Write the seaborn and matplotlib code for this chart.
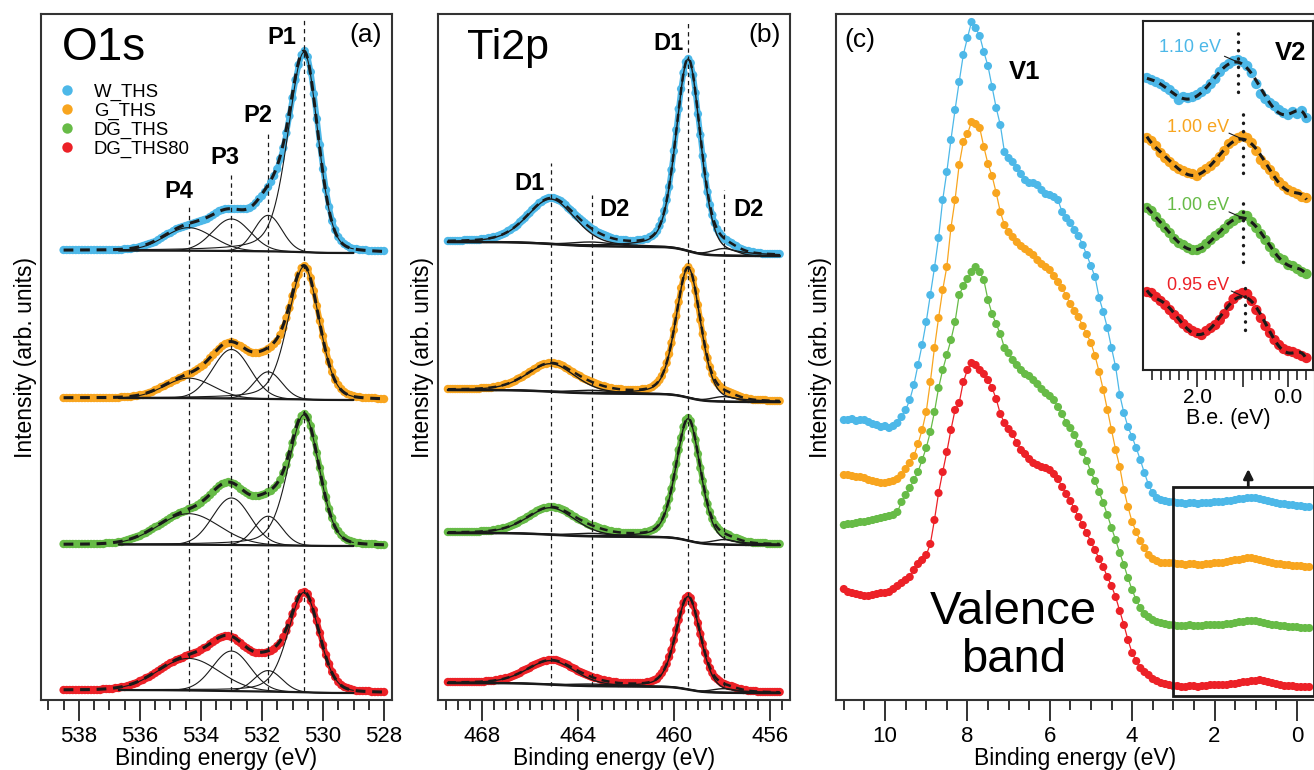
import numpy as np
import pandas as pd
import matplotlib
matplotlib.use("Agg")
import matplotlib.pyplot as plt
from matplotlib.lines import Line2D
from matplotlib.patches import Rectangle
from matplotlib.ticker import MultipleLocator
import seaborn as sns

sns.set_theme(style="ticks")
plt.rcParams["font.family"] = ["Liberation Sans", "DejaVu Sans"]
plt.rcParams["axes.unicode_minus"] = False
plt.rcParams["text.color"] = "black"
plt.rcParams["axes.labelcolor"] = "black"
plt.rcParams["xtick.color"] = "black"
plt.rcParams["xtick.labelcolor"] = "black"

# ------------------------------------------------------------------ samples
SAMPLES = ["W_THS", "G_THS", "DG_THS", "DG_THS80"]
COLORS = {"W_THS": "#4db8e8", "G_THS": "#f8a51f", "DG_THS": "#67bb47", "DG_THS80": "#ec2127"}

# ------------------------------------------------------------------ O1s (a)
O1S_START, O1S_STOP, O1S_STEP = 538.5, 528.0, 0.1
O1S_W = [3, 3, 3, 3, 3, 3,
         3, 3, 3, 3, 3, 3, 3, 3, 3, 3,
         3, 3, 3, 3, 4, 4, 4, 5, 5, 6,
         7, 8, 9, 10, 11, 13, 15, 17, 19, 20,
         22, 24, 25, 26, 27, 28, 29, 30, 31, 32,
         33, 34, 36, 38, 40, 42, 43, 44, 44, 44,
         44, 44, 44, 44, 44, 45, 47, 50, 54, 57,
         61, 66, 71, 77, 84, 94, 105, 120, 137, 155,
         173, 188, 198, 202, 196, 181, 159, 134, 108, 84,
         63, 46, 32, 23, 16, 12, 9, 7, 5, 4,
         4, 3, 3, 3, 2, 2, 2, 2, 2, 2]
O1S_G = [2, 2, 2, 2, 2, 2,
         2, 2, 2, 2, 2, 2, 2, 2, 2, 2,
         2, 2, 2, 3, 3, 3, 3, 4, 4, 5,
         5, 6, 7, 8, 10, 11, 13, 14, 16, 17,
         19, 20, 22, 23, 25, 26, 27, 29, 31, 33,
         35, 38, 42, 45, 48, 51, 54, 56, 57, 58,
         57, 55, 54, 52, 50, 48, 47, 47, 47, 48,
         49, 51, 53, 56, 59, 65, 72, 82, 92, 104,
         115, 125, 132, 134, 131, 122, 109, 94, 79, 64,
         50, 38, 28, 20, 15, 11, 8, 6, 5, 4,
         3, 3, 2, 2, 2, 2, 2, 1, 1, 1]
O1S_DG = [2, 2, 2, 2, 2, 2,
          2, 2, 2, 2, 2, 2, 2, 2, 3, 3,
          3, 3, 4, 4, 5, 6, 7, 8, 9, 10,
          12, 13, 15, 17, 19, 20, 22, 24, 26, 28,
          30, 31, 33, 34, 35, 37, 38, 39, 41, 43,
          46, 48, 51, 54, 57, 60, 62, 63, 64, 63,
          62, 60, 57, 55, 53, 51, 50, 50, 50, 51,
          52, 54, 55, 58, 61, 66, 73, 81, 91, 103,
          114, 124, 130, 132, 129, 120, 108, 93, 78, 63,
          49, 37, 28, 20, 15, 11, 8, 6, 5, 4,
          3, 3, 2, 2, 2, 2, 2, 1, 1, 1]
O1S_DG80 = [3, 3, 3, 3, 3, 3,
            3, 3, 3, 3, 3, 3, 3, 4, 4, 4,
            4, 5, 5, 6, 6, 7, 8, 9, 10, 12,
            13, 15, 16, 18, 20, 22, 24, 26, 28, 30,
            31, 33, 34, 35, 37, 38, 39, 40, 41, 43,
            45, 46, 49, 51, 53, 55, 56, 57, 57, 56,
            55, 52, 50, 47, 45, 43, 41, 40, 40, 40,
            40, 41, 42, 44, 47, 50, 56, 62, 70, 79,
            87, 94, 100, 101, 99, 92, 83, 72, 60, 48,
            38, 29, 21, 16, 11, 8, 6, 5, 4, 3,
            2, 2, 2, 2, 2, 1, 1, 1, 1, 1]
O1S_OFFSETS = [447, 300, 154, 7]
O1S_BG_STEP = [2.5, 2.0, 1.5, 3.0]
O1S_LABELS = ["P1", "P2", "P3", "P4"]
O1S_CENTERS = [530.62, 531.8, 533.0, 534.4]
O1S_HEIGHTS = {"W_THS": [200, 36, 32, 23], "G_THS": [133, 27, 49, 20],
               "DG_THS": [131, 29, 47, 31], "DG_THS80": [100, 21, 40, 32]}
O1S_P1_HWHM_LO = {"W_THS": 0.53, "G_THS": 0.58, "DG_THS": 0.58, "DG_THS80": 0.58}
O1S_P4_HWHM = {"W_THS": 0.93, "G_THS": 0.93, "DG_THS": 1.18, "DG_THS80": 1.18}
O1S_HWHM = [0.62, 0.53, 0.72, None]
O1S_FIT_RANGE = (536.7, 529.0)
O1S_LABEL_POS = [(531.34, 663), (532.15, 585), (533.23, 543), (534.71, 508)]
O1S_GUIDE_TOP = [680, 567, 525, 495]

# ------------------------------------------------------------------ Ti2p (b)
TI_START, TI_STOP, TI_STEP = 469.4, 455.6, 0.1
TI_W = [15, 15, 15, 15, 15,
        15, 15, 16, 16, 16, 16, 16, 16, 16, 17,
        17, 17, 18, 18, 19, 19, 20, 21, 22, 23,
        25, 26, 28, 29, 31, 34, 36, 38, 41, 43,
        46, 48, 50, 53, 54, 56, 57, 58, 58, 58,
        57, 56, 55, 53, 51, 48, 46, 44, 41, 39,
        37, 35, 33, 31, 29, 27, 26, 24, 23, 22,
        21, 20, 19, 18, 17, 17, 16, 16, 16, 16,
        15, 15, 15, 15, 16, 16, 16, 17, 17, 19,
        20, 22, 25, 30, 36, 45, 56, 69, 86, 105,
        126, 147, 167, 183, 194, 197, 193, 181, 163, 142,
        121, 100, 81, 64, 51, 41, 33, 27, 23, 20,
        17, 16, 14, 13, 11, 10, 8, 7, 6, 5,
        5, 4, 4, 3, 3, 3, 2, 2, 2, 2,
        2, 2, 2, 2]
TI_G = [13, 13, 13, 13, 13,
        13, 13, 13, 13, 13, 13, 13, 13, 13, 14,
        14, 14, 14, 14, 15, 15, 16, 16, 17, 18,
        18, 19, 20, 21, 23, 24, 25, 27, 28, 30,
        31, 33, 34, 36, 37, 38, 38, 39, 39, 39,
        38, 38, 37, 36, 34, 33, 31, 30, 28, 27,
        26, 24, 23, 22, 21, 20, 19, 18, 17, 16,
        16, 15, 14, 14, 13, 13, 13, 13, 12, 12,
        12, 12, 12, 12, 12, 12, 13, 13, 13, 14,
        15, 17, 19, 22, 26, 32, 39, 48, 59, 72,
        86, 100, 114, 125, 132, 135, 131, 123, 111, 97,
        82, 68, 55, 44, 35, 28, 22, 19, 16, 14,
        12, 11, 10, 9, 8, 7, 6, 5, 4, 4,
        3, 3, 2, 2, 2, 2, 2, 2, 1, 1,
        1, 1, 1, 1]
TI_DG = [13, 13, 13, 13, 13,
         13, 13, 13, 13, 13, 13, 13, 13, 13, 14,
         14, 14, 14, 14, 15, 15, 16, 16, 17, 17,
         18, 19, 20, 21, 22, 24, 25, 26, 28, 29,
         31, 32, 34, 35, 36, 37, 37, 38, 38, 38,
         37, 37, 36, 35, 34, 32, 31, 29, 28, 26,
         25, 24, 23, 21, 20, 19, 19, 18, 17, 16,
         16, 15, 14, 14, 13, 13, 13, 12, 12, 12,
         12, 12, 12, 12, 12, 12, 12, 13, 13, 14,
         15, 16, 18, 21, 25, 30, 37, 46, 56, 68,
         81, 95, 107, 118, 125, 127, 124, 116, 105, 91,
         77, 64, 52, 41, 33, 26, 21, 18, 15, 13,
         12, 11, 10, 8, 7, 7, 6, 5, 4, 3,
         3, 3, 2, 2, 2, 2, 2, 2, 1, 1,
         1, 1, 1, 1]
TI_DG80 = [11, 11, 11, 11, 11,
           11, 11, 11, 11, 11, 11, 11, 11, 11, 11,
           11, 12, 12, 12, 12, 13, 13, 14, 14, 15,
           15, 16, 17, 18, 19, 20, 22, 23, 24, 25,
           27, 28, 29, 30, 31, 32, 32, 33, 33, 33,
           33, 32, 31, 30, 29, 28, 26, 25, 24, 22,
           21, 20, 19, 18, 17, 16, 15, 15, 14, 13,
           13, 12, 12, 11, 11, 11, 10, 10, 10, 10,
           10, 10, 10, 10, 10, 10, 10, 10, 11, 11,
           12, 13, 14, 17, 20, 24, 29, 36, 43, 53,
           63, 73, 82, 90, 95, 97, 95, 88, 80, 70,
           59, 49, 40, 32, 25, 20, 16, 14, 12, 10,
           9, 8, 7, 7, 6, 5, 4, 4, 3, 3,
           2, 2, 2, 2, 1, 1, 1, 1, 1, 1,
           1, 1, 1, 1]
TI_OFFSETS = [444, 298, 155, 7]
TI_BG_STEP = [14, 12, 12, 10]
TI_CENTERS = [459.4, 465.1, 457.9, 463.4]
TI_HWHM = [0.6, 1.18, 0.6, 1.0]
TI_MIX = [0.3, 0.3, 0.0, 0.0]
TI_HEIGHTS = {"W_THS": [192, 45, 7, 4], "G_THS": [130, 28, 5, 3],
              "DG_THS": [122, 27, 5, 3], "DG_THS80": [93, 24, 4, 2]}
TI_LABELS = ["D1", "D1", "D2", "D2"]
TI_LABEL_POS = [(460.24, 657), (465.99, 517), (456.9, 490), (462.45, 490)]
TI_GUIDE_TOP = [680, 537, 510, 505]

# ------------------------------------------------------------------ Valence band (c), already stacked
VB_START, VB_STOP, VB_STEP = 11.0, -0.3, 0.1
VB_W = [280, 280, 281, 279, 280, 280, 278, 276, 275, 273,
        274, 272, 274, 277, 283, 290, 300, 315, 335, 355,
        378, 405, 432, 462, 500, 528, 560, 590, 618, 645,
        662, 678, 672, 664, 648, 634, 613, 592, 575, 548,
        542, 538, 532, 526, 520, 517, 517, 515, 510, 506,
        505, 503, 500, 488, 482, 477, 470, 464, 455, 445,
        434, 423, 402, 388, 372, 352, 333, 305, 287, 273,
        263, 252, 240, 227, 215, 207, 202, 200, 199, 198,
        198, 197, 197, 196, 197, 197, 196, 197, 197, 197,
        198, 198, 198, 199, 199, 200, 201, 201, 202, 202,
        202, 201, 200, 199, 198, 197, 196, 196, 195, 195,
        194, 194, 193, 193]
VB_G = [225, 225, 224, 223, 223, 222, 220, 219, 218, 217,
        217, 218, 219, 221, 225, 231, 237, 244, 256, 270,
        288, 318, 352, 382, 410, 433, 472, 500, 535, 558,
        566, 578, 576, 572, 553, 536, 524, 507, 488, 475,
        468, 463, 458, 454, 451, 448, 445, 440, 436, 433,
        430, 424, 418, 412, 404, 396, 389, 383, 374, 366,
        357, 344, 328, 310, 290, 270, 250, 233, 210, 193,
        178, 168, 159, 152, 145, 141, 139, 137, 137, 137,
        137, 136, 136, 135, 136, 136, 135, 135, 136, 136,
        137, 137, 137, 138, 139, 140, 140, 141, 142, 142,
        141, 140, 139, 138, 137, 136, 136, 135, 135, 134,
        134, 134, 133, 133]
VB_DG = [175, 176, 176, 177, 178, 178, 179, 180, 181, 182,
         183, 184, 185, 188, 198, 205, 212, 220, 228, 240,
         252, 268, 288, 312, 330, 345, 360, 378, 405, 414,
         421, 428, 433, 428, 420, 400, 386, 376, 366, 352,
         347, 340, 335, 330, 326, 324, 320, 316, 311, 307,
         304, 300, 293, 286, 277, 272, 265, 256, 248, 239,
         228, 219, 208, 197, 185, 172, 160, 147, 135, 122,
         110, 100, 92, 86, 83, 80, 78, 77, 76, 75,
         75, 74, 74, 74, 75, 74, 74, 74, 75, 75,
         75, 75, 75, 76, 76, 77, 78, 78, 79, 79,
         79, 78, 77, 76, 75, 75, 74, 74, 73, 73,
         73, 72, 72, 72]
VB_DG80 = [111, 108, 107, 106, 105, 104, 104, 105, 106, 107,
           107, 108, 111, 114, 117, 120, 123, 130, 136, 140,
           145, 156, 180, 207, 228, 248, 270, 290, 297, 318,
           330, 337, 335, 330, 326, 320, 312, 301, 286, 277,
           271, 266, 257, 250, 246, 241, 237, 235, 233, 232,
           230, 226, 221, 213, 206, 199, 191, 183, 175, 167,
           158, 150, 141, 133, 123, 114, 103, 89, 75, 60,
           47, 39, 32, 28, 25, 21, 19, 17, 16, 15,
           14, 14, 13, 13, 14, 14, 13, 14, 14, 15,
           15, 15, 15, 15, 16, 16, 17, 18, 18, 19,
           19, 20, 19, 18, 17, 16, 15, 14, 14, 14,
           13, 13, 13, 13]
VB_ZOOM_WINDOW = (3.0, -0.42, 4, 213)

# ------------------------------------------------------------------ inset V2
INS_START, INS_STOP, INS_STEP = 3.1, -0.4, 0.1
INS_W = [292, 290, 288, 286, 283, 280, 276, 270, 273, 272,
         273, 275, 278, 281, 286, 291, 298, 303, 306, 309,
         310, 308, 304, 297, 286, 276, 271, 267, 264, 260,
         257, 255, 258, 256, 259, 252]
INS_G = [232, 229, 224, 217, 212, 208, 204, 201, 199, 197,
         196, 194, 198, 201, 204, 208, 213, 219, 226, 229,
         232, 234, 232, 227, 219, 210, 205, 200, 194, 188,
         184, 180, 178, 176, 173, 172]
INS_DG = [162, 159, 153, 147, 142, 137, 131, 127, 125, 122,
          120, 120, 122, 126, 130, 134, 137, 141, 146, 149,
          152, 155, 154, 148, 142, 136, 130, 123, 117, 112,
          110, 105, 104, 101, 98, 96]
INS_DG80 = [78, 77, 73, 69, 65, 60, 55, 51, 46, 42,
            39, 37, 35, 39, 42, 45, 50, 56, 64, 71,
            75, 77, 76, 69, 60, 52, 44, 37, 30, 25,
            21, 19, 18, 16, 14, 12]
V2_POS = [1.10, 1.00, 1.00, 0.95]
V2_TEXT = ["1.10 eV", "1.00 eV", "1.00 eV", "0.95 eV"]
V2_TEXT_POS = [(2.15, 323), (1.97, 243), (1.97, 165), (1.97, 85)]
V2_GUIDE = [(278, 337), (197, 257), (108, 167), (40, 88)]


# ------------------------------------------------------------------ helpers
def grid(start, stop, step, n):
    e = np.round(start - step * np.arange(n), 2)
    assert abs(e[-1] - stop) < 1e-6, (e[-1], stop)
    return e


def pvoigt(x, c, h, w_hi, w_lo, m_hi, m_lo):
    d = x - c
    w = np.where(d >= 0, w_hi, w_lo)
    m = np.where(d >= 0, m_hi, m_lo)
    u2 = (d / w) ** 2
    return h * ((1 - m) * np.exp(-np.log(2) * u2) + m / (1 + u2))


def shirley(x_desc, signal, step):
    xs = x_desc[::-1]
    s = signal[::-1]
    cum = np.concatenate([[0.0], np.cumsum(0.5 * (s[1:] + s[:-1]) * np.diff(xs))])
    return (step * cum / cum[-1])[::-1]


def long_frame(energy, series, offsets):
    parts = []
    for name, vals, off in zip(SAMPLES, series, offsets):
        parts.append(pd.DataFrame({"energy": energy,
                                   "intensity": np.asarray(vals, float) + off,
                                   "sample": name}))
    return pd.concat(parts, ignore_index=True)


def style_main(ax, xlim, majors):
    ax.set_xlim(*xlim)
    ax.set_ylim(0, 686)
    ax.set_xticks(majors)
    ax.set_xticklabels([f"{m:g}" for m in majors])
    ax.xaxis.set_minor_locator(MultipleLocator(0.5))
    ax.tick_params(axis="x", which="major", direction="out", length=15, width=1.4,
                   color="#333333", labelsize=16, pad=4, bottom=True, top=False,
                   labelcolor="black")
    ax.tick_params(axis="x", which="minor", direction="out", length=7, width=1.4,
                   color="#333333", bottom=True, top=False)
    ax.set_yticks([])
    for sp in ax.spines.values():
        sp.set_visible(True)
        sp.set_linewidth(1.5)
        sp.set_color("#333333")
    ax.set_xlabel("Binding energy (eV)", fontsize=16.5, labelpad=0, color="black")
    ax.set_ylabel("Intensity (arb. units)", fontsize=16.5, labelpad=3, color="black")


W_PX, H_PX = 1314, 770
fig = plt.figure(figsize=(W_PX / 100, H_PX / 100), dpi=100)
fig.patch.set_facecolor("white")


def px_axes(left, top, right, bottom):
    return fig.add_axes([left / W_PX, 1 - bottom / H_PX, (right - left) / W_PX, (bottom - top) / H_PX])


axA = px_axes(40.7, 14, 391.7, 700)
axB = px_axes(438.3, 14, 790, 700)
axC = px_axes(836, 14, 1315, 700)

DASH_GUIDE = (0, (3.5, 3))

# ================================================================== panel (a)
o1s_e = grid(O1S_START, O1S_STOP, O1S_STEP, len(O1S_W))
dfA = long_frame(o1s_e, [O1S_W, O1S_G, O1S_DG, O1S_DG80], O1S_OFFSETS)
sns.lineplot(data=dfA, x="energy", y="intensity", hue="sample", hue_order=SAMPLES,
             palette=COLORS, lw=4.0, legend=False, sort=False, estimator=None, ax=axA, zorder=1.5)
sns.scatterplot(data=dfA, x="energy", y="intensity", hue="sample", hue_order=SAMPLES,
                palette=COLORS, s=36, linewidth=0, legend=False, ax=axA, zorder=2)

xf = np.linspace(O1S_START, O1S_STOP, 900)
fit_mask = (xf <= O1S_FIT_RANGE[0]) & (xf >= O1S_FIT_RANGE[1])
for name, off, step in zip(SAMPLES, O1S_OFFSETS, O1S_BG_STEP):
    h = O1S_HEIGHTS[name]
    comps = [
        pvoigt(xf, O1S_CENTERS[0], h[0], O1S_HWHM[0], O1S_P1_HWHM_LO[name], 0.35, 0.2),
        pvoigt(xf, O1S_CENTERS[1], h[1], O1S_HWHM[1], O1S_HWHM[1], 0, 0),
        pvoigt(xf, O1S_CENTERS[2], h[2], O1S_HWHM[2], O1S_HWHM[2], 0, 0),
        pvoigt(xf, O1S_CENTERS[3], h[3], O1S_P4_HWHM[name], O1S_P4_HWHM[name], 0, 0),
    ]
    total = np.sum(comps, axis=0)
    bg = shirley(xf, total, step)
    for c in comps:
        axA.plot(xf[fit_mask], (off + bg + c)[fit_mask], color="k", lw=0.8, zorder=3)
    axA.plot(xf[fit_mask], (off + bg)[fit_mask], color="k", lw=1.6, zorder=3)
    axA.plot(xf, off + bg + total, color="k", lw=2.2, ls=(0, (3.2, 2.2)), zorder=4)

for lab, cen, (lx, ly), top in zip(O1S_LABELS, O1S_CENTERS, O1S_LABEL_POS, O1S_GUIDE_TOP):
    axA.plot([cen, cen], [O1S_OFFSETS[-1] + 2, top], color="k", lw=0.9, ls=DASH_GUIDE, zorder=5)
    axA.text(lx, ly, lab, fontsize=17, fontweight="bold", ha="center", va="center", zorder=6)

style_main(axA, (539.25, 527.75), [538, 536, 534, 532, 530, 528])
axA.text(0.18, 0.950, "O1s", transform=axA.transAxes, fontsize=33, ha="center", va="center")
axA.text(0.927, 0.969, "(a)", transform=axA.transAxes, fontsize=19, ha="center", va="center")
handles = [Line2D([], [], ls="", marker="o", markersize=7.5, markerfacecolor=COLORS[s],
                  markeredgewidth=0) for s in SAMPLES]
axA.legend(handles, SAMPLES, loc="upper left", bbox_to_anchor=(0.048, 0.899), frameon=False,
           fontsize=13.4, handlelength=1.0, handletextpad=0.95, labelspacing=0.1,
           borderpad=0, borderaxespad=0, labelcolor="black")

# ================================================================== panel (b)
ti_e = grid(TI_START, TI_STOP, TI_STEP, len(TI_W))
dfB = long_frame(ti_e, [TI_W, TI_G, TI_DG, TI_DG80], TI_OFFSETS)
sns.lineplot(data=dfB, x="energy", y="intensity", hue="sample", hue_order=SAMPLES,
             palette=COLORS, lw=4.0, legend=False, sort=False, estimator=None, ax=axB, zorder=1.5)
sns.scatterplot(data=dfB, x="energy", y="intensity", hue="sample", hue_order=SAMPLES,
                palette=COLORS, s=36, linewidth=0, legend=False, ax=axB, zorder=2)

xt = np.linspace(TI_START, TI_STOP, 1000)
for name, off, step in zip(SAMPLES, TI_OFFSETS, TI_BG_STEP):
    h = TI_HEIGHTS[name]
    comps = [pvoigt(xt, c, hh, w, w, m, m) for c, hh, w, m in zip(TI_CENTERS, h, TI_HWHM, TI_MIX)]
    total = np.sum(comps, axis=0)
    bg = shirley(xt, total, step)
    for c in comps:
        axB.plot(xt, off + bg + c, color="k", lw=1.0, zorder=3)
    axB.plot(xt, off + bg, color="k", lw=1.8, zorder=3)
    axB.plot(xt, off + bg + total, color="k", lw=1.8, ls=(0, (3.2, 2.2)), zorder=4)

for lab, cen, (lx, ly), top in zip(TI_LABELS, TI_CENTERS, TI_LABEL_POS, TI_GUIDE_TOP):
    axB.plot([cen, cen], [TI_OFFSETS[-1] + 7, top], color="k", lw=0.9, ls=DASH_GUIDE, zorder=5)
    axB.text(lx, ly, lab, fontsize=17, fontweight="bold", ha="center", va="center", zorder=6)

style_main(axB, (469.8, 455.17), [468, 464, 460, 456])
axB.text(0.198, 0.950, "Ti2p", transform=axB.transAxes, fontsize=31, ha="center", va="center")
axB.text(0.929, 0.969, "(b)", transform=axB.transAxes, fontsize=19, ha="center", va="center")

# ================================================================== panel (c)
vb_e = grid(VB_START, VB_STOP, VB_STEP, len(VB_W))
dfC = long_frame(vb_e, [VB_W, VB_G, VB_DG, VB_DG80], [0, 0, 0, 0])
sns.lineplot(data=dfC, x="energy", y="intensity", hue="sample", hue_order=SAMPLES,
             palette=COLORS, lw=0.9, legend=False, sort=False, estimator=None, ax=axC, zorder=1.5)
sns.scatterplot(data=dfC, x="energy", y="intensity", hue="sample", hue_order=SAMPLES,
                palette=COLORS, s=34, linewidth=0, legend=False, ax=axC, zorder=2)
style_main(axC, (11.19, -0.44), [10, 8, 6, 4, 2, 0])
axC.text(0.05, 0.962, "(c)", transform=axC.transAxes, fontsize=19, ha="center", va="center")
axC.text(6.60, 628, "V1", fontsize=18.5, fontweight="bold", ha="center", va="center")
axC.text(6.89, 64, "Valence\nband", fontsize=34, ha="center", va="center",
         multialignment="center", linespacing=1.1)
zx0, zx1, zy0, zy1 = VB_ZOOM_WINDOW
axC.add_patch(Rectangle((zx0, zy0), zx1 - zx0, zy1 - zy0, fill=False, lw=2.0,
                        edgecolor="k", clip_on=False, zorder=6))
axC.annotate("", xy=(1.18, zy1 + 18), xytext=(1.18, zy1),
             arrowprops=dict(arrowstyle="-|>", color="k", lw=2.0, mutation_scale=14,
                             shrinkA=0, shrinkB=0), zorder=6)

# ================================================================== inset
axI = px_axes(1143.3, 21, 1313.3, 370)
ins_e = grid(INS_START, INS_STOP, INS_STEP, len(INS_W))
dfI = long_frame(ins_e, [INS_W, INS_G, INS_DG, INS_DG80], [0, 0, 0, 0])
sns.scatterplot(data=dfI, x="energy", y="intensity", hue="sample", hue_order=SAMPLES,
                palette=COLORS, s=55, linewidth=0, legend=False, ax=axI, zorder=2)
xi = np.linspace(INS_START, INS_STOP, 300)
for name, vals, pos, txt, (tx, ty), (g0, g1) in zip(
        SAMPLES, [INS_W, INS_G, INS_DG, INS_DG80], V2_POS, V2_TEXT, V2_TEXT_POS, V2_GUIDE):
    coef = np.polyfit(ins_e, np.asarray(vals, float), 7)
    axI.plot(xi, np.polyval(coef, xi), color="k", lw=2.2, ls=(0, (2.6, 1.8)), zorder=3)
    axI.plot([pos, pos], [g0, g1], color="k", lw=2.4, ls=(0, (0.1, 2.4)),
             dash_capstyle="round", zorder=4)
    py = np.polyval(coef, pos)
    axI.plot([pos + 0.3, pos], [py + 6, py], color="k", lw=0.8, zorder=4)
    axI.text(tx, ty, txt, color=COLORS[name], fontsize=13, ha="center", va="center")
axI.text(-0.05, 317, "V2", fontsize=18.5, fontweight="bold", ha="center", va="center")
axI.set_xlim(3.18, -0.55)
axI.set_ylim(0, 349)
axI.set_xticks([2.0, 1.0, 0.0])
axI.set_xticklabels(["2.0", "", "0.0"])
axI.xaxis.set_minor_locator(MultipleLocator(0.2))
axI.tick_params(axis="x", which="major", direction="out", length=12, width=1.2,
                labelsize=15, pad=1, bottom=True, color="#222222", labelcolor="black")
axI.tick_params(axis="x", which="minor", direction="out", length=7, width=1.2, bottom=True,
                color="#222222")
axI.set_yticks([])
axI.set_ylabel("")
axI.set_xlabel("B.e. (eV)", fontsize=15.5, labelpad=1, color="black")
for sp in axI.spines.values():
    sp.set_visible(True)
    sp.set_linewidth(1.5)
    sp.set_color("#222222")
axI.set_facecolor("white")

fig.savefig("out.png", dpi=100)
